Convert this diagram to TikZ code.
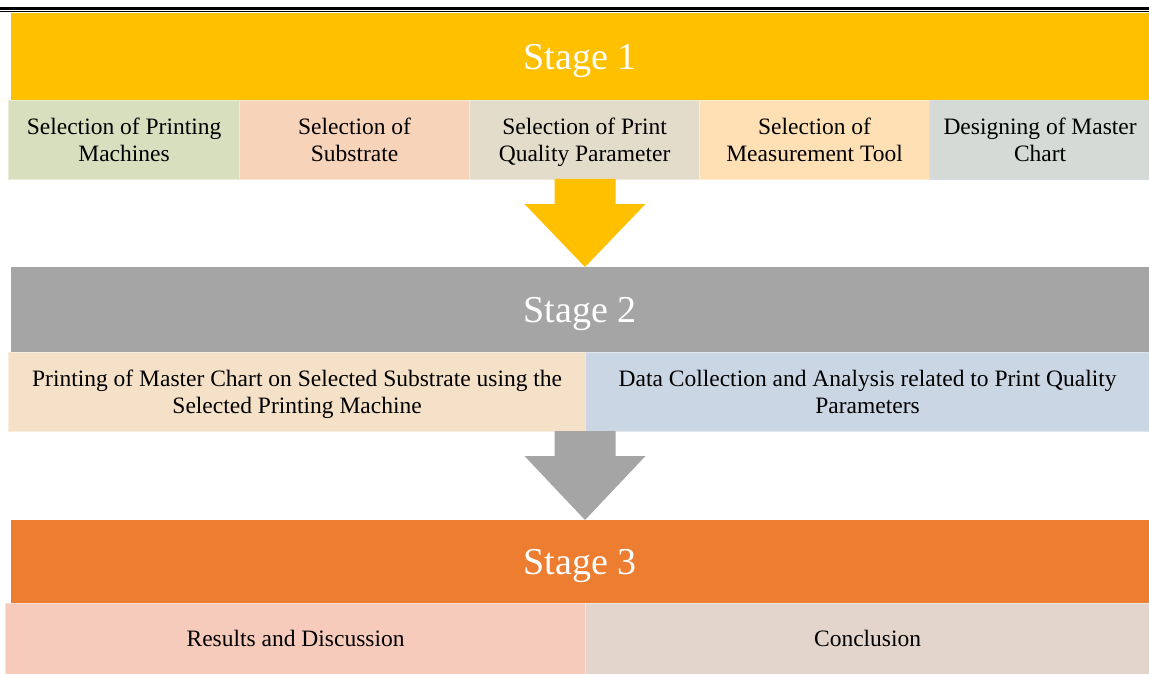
\documentclass[tikz,border=0pt]{standalone}
\usepackage{fontspec}
\setmainfont{Liberation Serif}
\usetikzlibrary{calc}
\definecolor{cstageA}{HTML}{FFC000}
\definecolor{cstageB}{HTML}{A5A5A5}
\definecolor{cstageC}{HTML}{ED7D31}
\definecolor{rAa}{HTML}{D8DFBF}
\definecolor{rAb}{HTML}{F7D3BA}
\definecolor{rAc}{HTML}{E4DCCA}
\definecolor{rAd}{HTML}{FFE0B4}
\definecolor{rAe}{HTML}{D5DAD6}
\definecolor{rBa}{HTML}{F5E1C8}
\definecolor{rBb}{HTML}{CBD6E4}
\definecolor{rCa}{HTML}{F6CBBB}
\definecolor{rCb}{HTML}{E3D5CC}
\tikzset{
  stagebar/.style={anchor=north west, inner sep=0pt, minimum width=1138pt,
    text=white, text depth=0pt, font=\fontsize{38}{40}\selectfont},
  subbox/.style={anchor=north west, inner sep=0pt, align=center,
    font=\fontsize{23.5}{24.5}\selectfont, line width=1.2pt},
}
\newcommand\myln[1]{#1\rule[-5.5pt]{0pt}{26pt}}
\newcommand\myblockarrow[3]{%
  \fill[#3] ($(#1)+(-30.5,0)$) -- ($(#1)+(-30.5,25)$) -- ($(#1)+(-60.5,25)$)
    -- (#2) -- ($(#1)+(60.5,25)$) -- ($(#1)+(30.5,25)$) -- ($(#1)+(30.5,0)$) -- cycle;}
\begin{document}
\begin{tikzpicture}[x=1pt,y=-1pt]
\useasboundingbox[fill=white] (0,0) rectangle (1149,674);
% top rule
\draw[line width=3.5pt] (0,8.5) -- (1149,8.5);
\draw[line width=1pt] (0,11.8) -- (1149,11.8);
% Stage 1
\node[stagebar, fill=cstageA, minimum height=87pt] (s1) at (11,13) {Stage 1};
\node[subbox, fill=rAa, draw=rAa!60!white, minimum width=231pt, minimum height=79pt] (a1) at (8,100) {\myln{Selection of Printing}\\\myln{Machines}};
\node[subbox, fill=rAb, draw=rAb!60!white, minimum width=230pt, minimum height=79pt] (a2) at (239,100) {\myln{Selection of}\\\myln{Substrate}};
\node[subbox, fill=rAc, draw=rAc!60!white, minimum width=230pt, minimum height=79pt] (a3) at (469,100) {\myln{Selection of Print}\\\myln{Quality Parameter}};
\node[subbox, fill=rAd, draw=rAd!60!white, minimum width=230pt, minimum height=79pt] (a4) at (699,100) {\myln{Selection of}\\\myln{Measurement Tool}};
\node[subbox, fill=rAe, draw=rBb!80!white, minimum width=221pt, minimum height=79pt] (a5) at (929,100) {\myln{Designing of Master}\\\myln{Chart}};
% Stage 2
\node[stagebar, fill=cstageB, minimum height=85pt] (s2) at (11,267) {Stage 2};
\node[subbox, fill=rBa, draw=rBa!60!white, minimum width=577pt, minimum height=79pt] (b1) at (8,352) {\myln{Printing of Master Chart on Selected Substrate using the}\\\myln{Selected Printing Machine}};
\node[subbox, fill=rBb, draw=rBb!60!white, minimum width=564pt, minimum height=79pt] (b2) at (585,352) {\myln{Data Collection and Analysis related to Print Quality}\\\myln{Parameters}};
% Stage 3
\node[stagebar, fill=cstageC, minimum height=83pt] (s3) at (11,520) {Stage 3};
\node[subbox, fill=rCa, draw=rCa!60!white, minimum width=580pt, minimum height=71pt] (c1) at (5,603) {\myln{Results and Discussion}};
\node[subbox, fill=rCb, draw=rCb!60!white, minimum width=564pt, minimum height=71pt] (c2) at (585,603) {\myln{Conclusion}};
% block arrows
\coordinate (t1) at (585,179);
\coordinate (p1) at (585,267);
\coordinate (t2) at (585,431);
\coordinate (p2) at (585,520);
\myblockarrow{t1}{p1}{cstageA}
\myblockarrow{t2}{p2}{cstageB}
\end{tikzpicture}
\end{document}
